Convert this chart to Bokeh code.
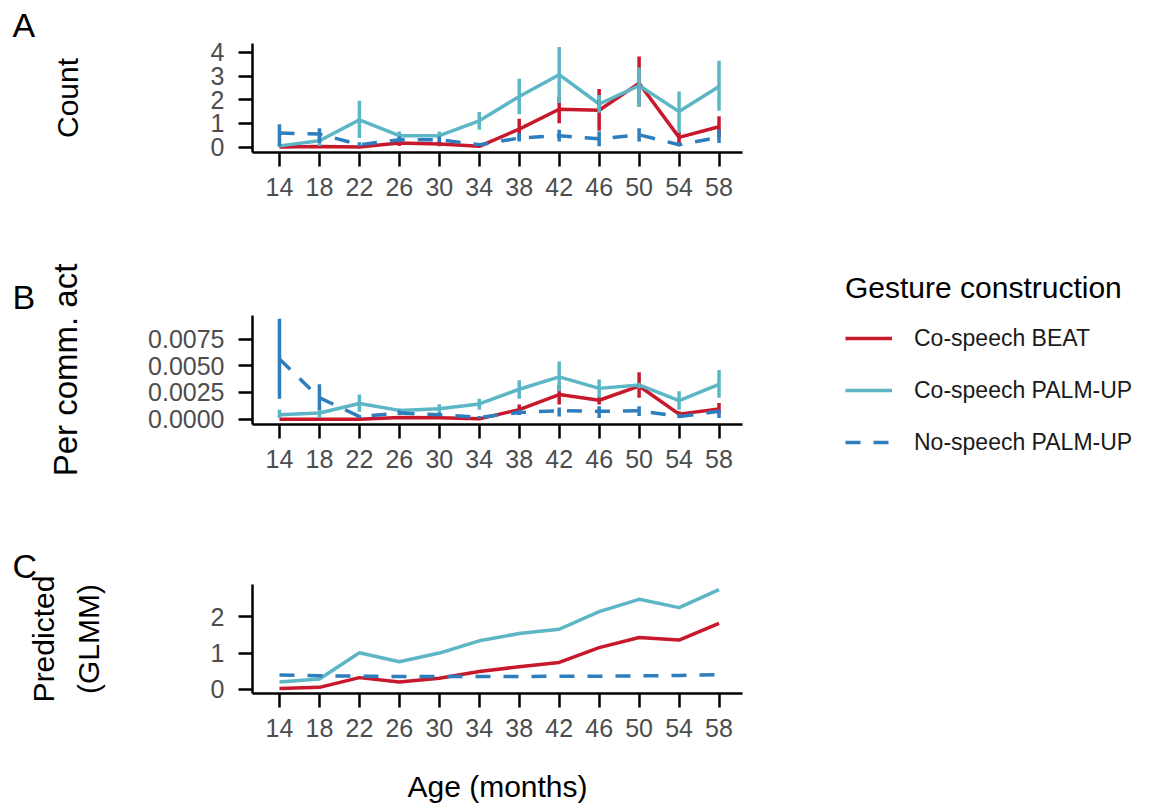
from bokeh.plotting import figure
from bokeh.models import Range1d, FixedTicker, Legend, LegendItem, Title, NumeralTickFormatter, GridBox
from bokeh.embed import file_html
from bokeh.resources import INLINE

ages = [14, 18, 22, 26, 30, 34, 38, 42, 46, 50, 54, 58]
series_names = ["Co-speech BEAT", "Co-speech PALM-UP", "No-speech PALM-UP"]

# Panel A: counts with error ranges
beat_count = [0.0, 0.02, 0.0, 0.17, 0.13, 0.03, 0.76, 1.60, 1.56, 2.70, 0.41, 0.86]
beat_count_lo = [0.0, 0.0, 0.0, 0.05, 0.03, 0.0, 0.31, 1.01, 0.69, 1.72, 0.17, 0.41]
beat_count_hi = [0.0, 0.05, 0.0, 0.30, 0.25, 0.07, 1.20, 2.14, 2.46, 3.83, 0.66, 1.30]
palm_count = [0.05, 0.27, 1.15, 0.48, 0.48, 1.11, 2.14, 3.06, 1.82, 2.60, 1.50, 2.56]
palm_count_lo = [0.0, 0.05, 0.38, 0.30, 0.30, 0.73, 1.39, 1.86, 1.45, 1.72, 0.60, 1.54]
palm_count_hi = [0.12, 0.50, 1.96, 0.66, 0.66, 1.48, 2.89, 4.23, 2.20, 3.37, 2.35, 3.65]
nosp_count = [0.59, 0.55, 0.10, 0.31, 0.31, 0.10, 0.38, 0.48, 0.35, 0.52, 0.10, 0.41]
nosp_count_lo = [0.03, 0.17, 0.03, 0.20, 0.20, 0.05, 0.24, 0.24, 0.03, 0.24, 0.03, 0.17]
nosp_count_hi = [0.97, 0.80, 0.20, 0.45, 0.45, 0.15, 0.59, 0.73, 0.66, 0.80, 0.20, 0.73]

# Panel B: per communicative act
beat_rate = [0.0, 0.0, 0.0, 0.00016, 0.00013, 0.00003, 0.00089, 0.0023, 0.00177, 0.0031, 0.00047, 0.00095]
beat_rate_lo = [0.0, 0.0, 0.0, 0.00005, 0.00003, 0.0, 0.00041, 0.00136, 0.00136, 0.0020, 0.00025, 0.00047]
beat_rate_hi = [0.0, 0.0, 0.0, 0.0003, 0.00025, 0.00008, 0.00136, 0.0032, 0.00215, 0.0044, 0.00073, 0.00152]
palm_rate = [0.00041, 0.00057, 0.00146, 0.00082, 0.00098, 0.00142, 0.0028, 0.00396, 0.00288, 0.0032, 0.00174, 0.00326]
palm_rate_lo = [0.0001, 0.0001, 0.0007, 0.0006, 0.0004, 0.00089, 0.0019, 0.0026, 0.0020, 0.0029, 0.00089, 0.0020]
palm_rate_hi = [0.00089, 0.0011, 0.0023, 0.0010, 0.0014, 0.0019, 0.00364, 0.0054, 0.0037, 0.0034, 0.0026, 0.0046]
nosp_rate = [0.00563, 0.0020, 0.00025, 0.00057, 0.00041, 0.00016, 0.00063, 0.00079, 0.00073, 0.00079, 0.00025, 0.00073]
nosp_rate_lo = [0.0019, 0.00089, 0.0001, 0.0004, 0.0003, 0.00005, 0.0004, 0.00025, 0.0001, 0.0003, 0.0001, 0.0001]
nosp_rate_hi = [0.0094, 0.00326, 0.0004, 0.0008, 0.0006, 0.0003, 0.00089, 0.0011, 0.0012, 0.0012, 0.0005, 0.0009]

# Panel C: GLMM predictions
beat_pred = [0.02, 0.05, 0.32, 0.20, 0.30, 0.49, 0.62, 0.74, 1.15, 1.43, 1.36, 1.82]
palm_pred = [0.20, 0.28, 1.01, 0.76, 1.00, 1.34, 1.54, 1.66, 2.15, 2.49, 2.26, 2.76]
nosp_pred = [0.39, 0.37, 0.36, 0.35, 0.35, 0.35, 0.35, 0.36, 0.36, 0.37, 0.38, 0.40]

count_ticks = [0, 1, 2, 3, 4]
rate_ticks = [0.0, 0.0025, 0.005, 0.0075]
pred_ticks = [0, 1, 2]

RED = "#C8182C"
CYAN = "#5CB6C6"
BLUE = "#2E7DBC"
COLORS = [RED, CYAN, BLUE]
DASHES = ["solid", "solid", "15 13"]
FONT = "Liberation Sans"
LW = 3.5
NAN = float("nan")


def make_fig(height, top, bottom, yr, yticks, ylabel, ysize, letter, ystandoff, xlabel=None):
    p = figure(width=800, height=height, x_range=Range1d(11.3, 60.35), y_range=Range1d(*yr),
               output_backend="svg", toolbar_location=None,
               min_border_left=252, min_border_right=58,
               min_border_top=top, min_border_bottom=bottom)
    p.grid.visible = False
    p.outline_line_color = None
    p.xaxis.ticker = FixedTicker(ticks=ages)
    p.yaxis.ticker = FixedTicker(ticks=yticks)
    p.axis.minor_tick_line_color = None
    p.axis.major_tick_in = 0
    p.axis.major_tick_out = 14
    p.axis.axis_line_width = 2.5
    p.axis.major_tick_line_width = 2.5
    p.axis.axis_line_color = "black"
    p.axis.major_tick_line_color = "black"
    p.axis.major_label_text_font = FONT
    p.axis.major_label_text_font_size = "25px"
    p.axis.major_label_text_color = "#4D4D4D"
    p.yaxis.major_label_standoff = 14
    p.xaxis.major_label_standoff = 11
    p.yaxis.axis_label = ylabel
    p.yaxis.axis_label_standoff = ystandoff
    p.yaxis.axis_label_text_font_size = ysize
    p.axis.axis_label_text_font = FONT
    p.axis.axis_label_text_font_style = "normal"
    p.axis.axis_label_text_color = "black"
    if xlabel:
        p.xaxis.axis_label = xlabel
        p.xaxis.axis_label_standoff = 30
        p.xaxis.axis_label_text_font_size = "30px"
    t = Title(text=letter, align="left", offset=-240, standoff=0,
              text_font=FONT, text_font_size="34px", text_font_style="normal", text_color="black")
    p.add_layout(t, "above")
    return p


def draw(p, x, ys, lo=None, hi=None):
    rs = []
    for i in range(3):
        r = p.line(x, ys[i], line_color=COLORS[i], line_width=LW, line_dash=DASHES[i])
        rs.append(r)
    if lo is not None:
        for i in range(3):
            p.segment(x0=x, y0=lo[i], x1=x, y1=hi[i], line_color=COLORS[i], line_width=LW)
    return rs


pA = make_fig(240, 43, 88, (-0.23, 4.38), count_ticks, "Count", "30px", "A", 124)
draw(pA, ages, [beat_count, palm_count, nosp_count],
     [beat_count_lo, palm_count_lo, nosp_count_lo], [beat_count_hi, palm_count_hi, nosp_count_hi])

pB = make_fig(260, 75, 76, (-0.0005, 0.0097), rate_ticks, "Per comm. act", "33px", "B", 61)
pB.yaxis.formatter = NumeralTickFormatter(format="0.0000")
draw(pB, ages, [beat_rate, palm_rate, nosp_rate],
     [beat_rate_lo, palm_rate_lo, nosp_rate_lo], [beat_rate_hi, palm_rate_hi, nosp_rate_hi])

pC = make_fig(311, 84, 118, (-0.12, 2.9), pred_ticks, "Predicted\n(GLMM)", "30px", "C", 103,
              xlabel="Age (months)")
pC.yaxis.axis_label_text_line_height = 1.35
draw(pC, ages, [beat_pred, palm_pred, nosp_pred])

# Legend panel: a blank figure spanning all three rows to the right
pL = figure(width=359, height=811, x_range=Range1d(0, 1), y_range=Range1d(0, 1),
            output_backend="svg", toolbar_location=None,
            x_axis_location=None, y_axis_location=None,
            min_border_left=0, min_border_right=0, min_border_top=43, min_border_bottom=118)
pL.grid.visible = False
pL.outline_line_color = None
# legend-only renderers: a single NaN point each, so nothing is drawn in the plot area
leg_r = [pL.line(x=[NAN], y=[NAN], line_color=COLORS[i], line_width=LW, line_dash=DASHES[i])
         for i in range(3)]
legend = Legend(items=[LegendItem(label=series_names[i], renderers=[leg_r[i]]) for i in range(3)],
                location=(45, 236), title="Gesture construction",
                title_text_font=FONT, title_text_font_size="30px", title_text_font_style="normal",
                title_text_color="black", title_standoff=18,
                label_text_font=FONT, label_text_font_size="23px", label_text_color="#1A1A1A",
                glyph_width=47, glyph_height=30, label_height=30, label_standoff=22, spacing=22,
                padding=0, margin=0, border_line_color=None, background_fill_alpha=0)
pL.add_layout(legend, "center")

layout = GridBox(children=[(pA, 0, 0), (pB, 1, 0), (pC, 2, 0), (pL, 0, 1, 3, 1)], spacing=0)
open("out.html", "w").write(file_html(layout, INLINE))
